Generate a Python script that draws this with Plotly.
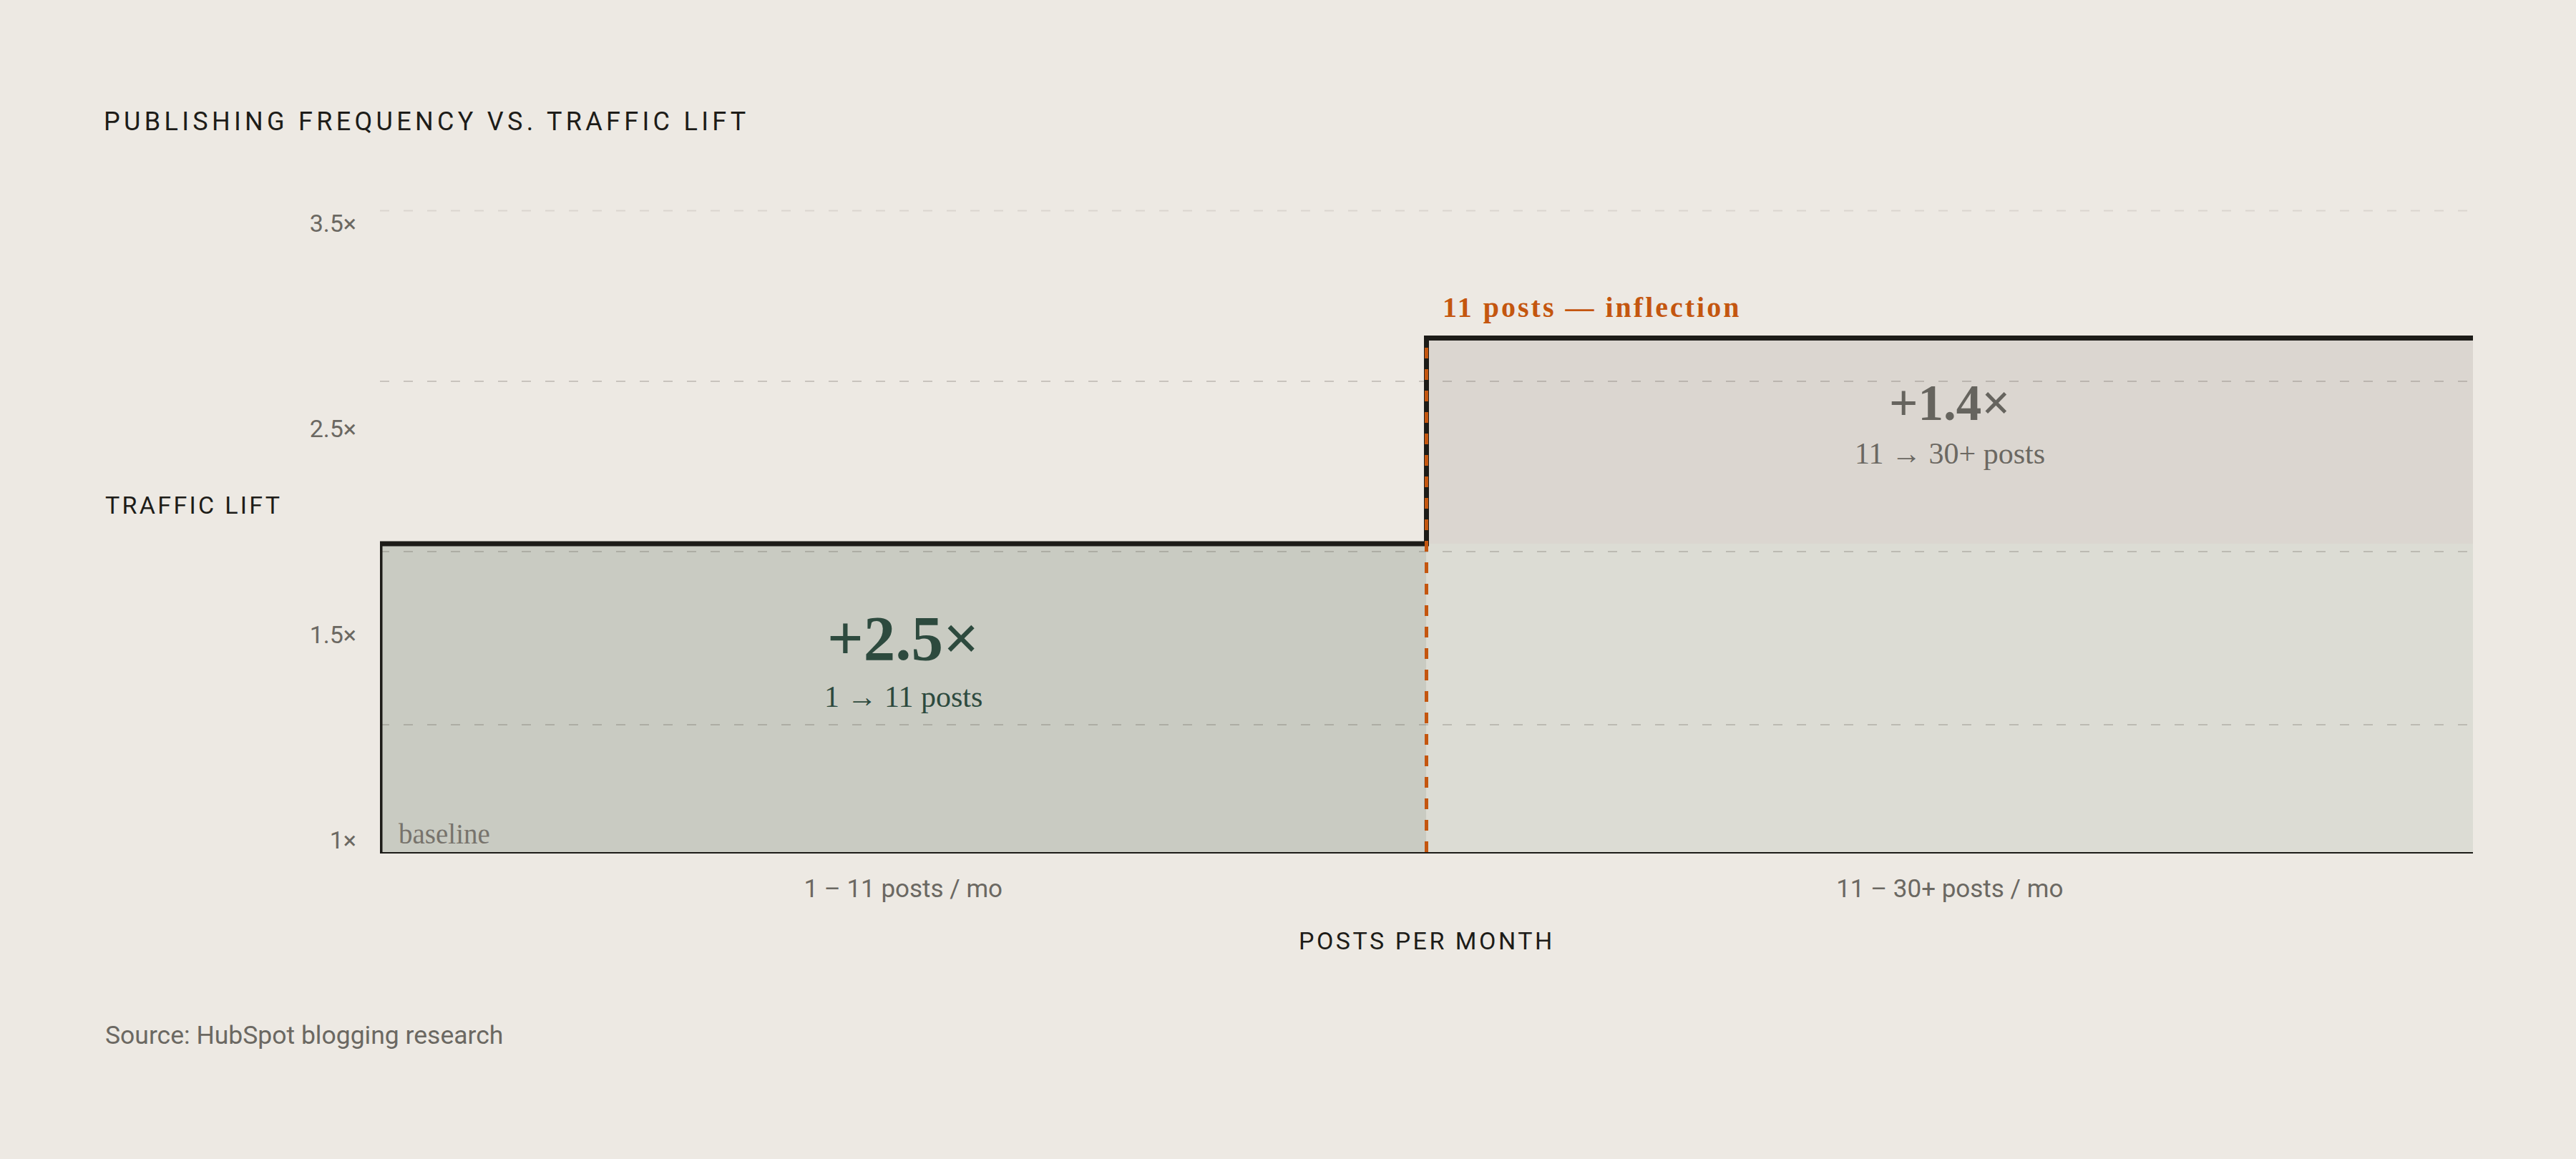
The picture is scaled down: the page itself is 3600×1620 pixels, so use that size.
import plotly.graph_objects as go

# two equal-width bands along the x axis
segment_edges = [0, 1, 2]
segment_labels = ["1 – 11 posts / mo", "11 – 30+ posts / mo"]
baseline_level = 1
lift_levels = [2.5, 3.5]
gain_labels = ["+2.5×", "+1.4×"]
range_labels = ["1 → 11 posts", "11 → 30+ posts"]
gain_label_y = [2.04, 3.185]
range_label_y = [1.755, 2.94]

# y axis: labels as printed on the original, dashed guides where they sit
ytick_vals = [1, 2, 3, 4]
ytick_text = ["1×", "1.5×", "2.5×", "3.5×"]
grid_vals = [1.62, 2.46, 3.29]
top_guide = 4.12
y_top = 4.125

BG = "#ede9e3"
INK = "#1d1c18"
GREY = "#6b6862"
ORANGE = "#c4560f"
GREEN = "#2d4a3e"
SANS = "Roboto"
SERIF = "Liberation Serif"

lower_fills = ["#c9cbc2", "#dcdcd4"]
upper_fill = "#dbd6d0"


def spaced(text, px):
    return "<span style='letter-spacing:%spx'>%s</span>" % (px, text)


fig = go.Figure()

# filled bands (below the gridlines)
shapes = []
for i in range(len(lift_levels)):
    shapes.append(dict(type="rect", xref="x", yref="y", layer="below",
                       x0=segment_edges[i], x1=segment_edges[i + 1],
                       y0=baseline_level, y1=lift_levels[0],
                       fillcolor=lower_fills[i], line=dict(width=0)))
shapes.append(dict(type="rect", xref="x", yref="y", layer="below",
                   x0=segment_edges[1], x1=segment_edges[2],
                   y0=lift_levels[0], y1=lift_levels[1],
                   fillcolor=upper_fill, line=dict(width=0)))
# faint guide along the top edge
shapes.append(dict(type="line", xref="x", yref="y", layer="below",
                   x0=segment_edges[0], x1=segment_edges[-1],
                   y0=top_guide, y1=top_guide,
                   line=dict(color="rgba(90,85,75,0.13)", width=2, dash="13px,20px")))

# step line
fig.add_trace(go.Scatter(
    x=[segment_edges[0], segment_edges[0], segment_edges[1], segment_edges[2]],
    y=[baseline_level, lift_levels[0], lift_levels[1], lift_levels[1]],
    mode="lines", line=dict(color=INK, width=7, shape="hv"),
    hoverinfo="skip", showlegend=False))

# inflection marker
fig.add_trace(go.Scatter(
    x=[segment_edges[1], segment_edges[1]],
    y=[baseline_level, lift_levels[1]],
    mode="lines", line=dict(color=ORANGE, width=5, dash="15px,15px"),
    hoverinfo="skip", showlegend=False))

annotations = []
for i in range(len(gain_labels)):
    mid = (segment_edges[i] + segment_edges[i + 1]) / 2
    col = GREEN if i == 0 else "#66645e"
    size = 89 if i == 0 else 71
    annotations.append(dict(x=mid, y=gain_label_y[i], xref="x", yref="y",
                            text="<b>%s</b>" % gain_labels[i], showarrow=False,
                            font=dict(family=SERIF, size=size, color=col)))
    annotations.append(dict(x=mid, y=range_label_y[i], xref="x", yref="y",
                            text=range_labels[i], showarrow=False,
                            font=dict(family=SERIF, size=42, color=col if i == 0 else GREY)))

annotations.append(dict(x=segment_edges[1], y=lift_levels[1], xref="x", yref="y",
                        xanchor="left", yanchor="middle", xshift=20, yshift=43,
                        text="<b>%s</b>" % spaced("11 posts — inflection", 3),
                        showarrow=False,
                        font=dict(family=SERIF, size=40, color=ORANGE)))
annotations.append(dict(x=segment_edges[0], y=baseline_level, xref="x", yref="y",
                        xanchor="left", yanchor="bottom", xshift=24, yshift=2,
                        text="baseline", showarrow=False,
                        font=dict(family=SERIF, size=39, color="#77736c")))

annotations.append(dict(x=-0.132, y=0.54, xref="paper", yref="paper",
                        xanchor="left", yanchor="middle",
                        text=spaced("TRAFFIC LIFT", 3.3), showarrow=False,
                        font=dict(family=SANS, size=34, color=INK)))
annotations.append(dict(x=0.5, y=-0.138, xref="paper", yref="paper",
                        xanchor="center", yanchor="middle",
                        text=spaced("POSTS PER MONTH", 3.5), showarrow=False,
                        font=dict(family=SANS, size=34, color=INK)))
annotations.append(dict(x=-0.132, y=-0.285, xref="paper", yref="paper",
                        xanchor="left", yanchor="middle",
                        text="Source: HubSpot blogging research", showarrow=False,
                        font=dict(family=SANS, size=35.5, color=GREY)))

fig.update_layout(
    width=3600, height=1620, autosize=False,
    paper_bgcolor=BG, plot_bgcolor=BG,
    margin=dict(l=531, r=144, t=293, b=429),
    title=dict(text=spaced("PUBLISHING FREQUENCY VS. TRAFFIC LIFT", 5.3),
               xref="container", yref="container", x=0.0403, y=0.8957,
               xanchor="left", yanchor="middle",
               font=dict(family=SANS, size=36, color=INK)),
    shapes=shapes,
    annotations=annotations,
    showlegend=False,
    xaxis=dict(range=[segment_edges[0], segment_edges[-1]],
               tickvals=[(segment_edges[i] + segment_edges[i + 1]) / 2 for i in range(2)],
               ticktext=segment_labels, ticks="", showgrid=False, zeroline=False,
               showline=True, linecolor=INK, linewidth=2,
               tickfont=dict(family=SANS, size=35, color=GREY),
               ticklabelstandoff=19, fixedrange=True),
    yaxis=dict(range=[baseline_level, y_top],
               tickvals=ytick_vals, ticktext=ytick_text, ticks="",
               showgrid=False, zeroline=False, showline=False,
               minor=dict(tickvals=grid_vals, showgrid=True,
                          gridcolor="rgba(90,85,75,0.25)", gridwidth=2,
                          griddash="13px,20px", ticks=""),
               tickfont=dict(family=SANS, size=34, color=GREY),
               ticklabelstandoff=32, ticklabelshift=-17, fixedrange=True),
)

fig.write_html("out.html", config={"displayModeBar": False},
               post_script="document.body.style.margin='0';"
                           "document.body.style.background='%s';" % BG)
